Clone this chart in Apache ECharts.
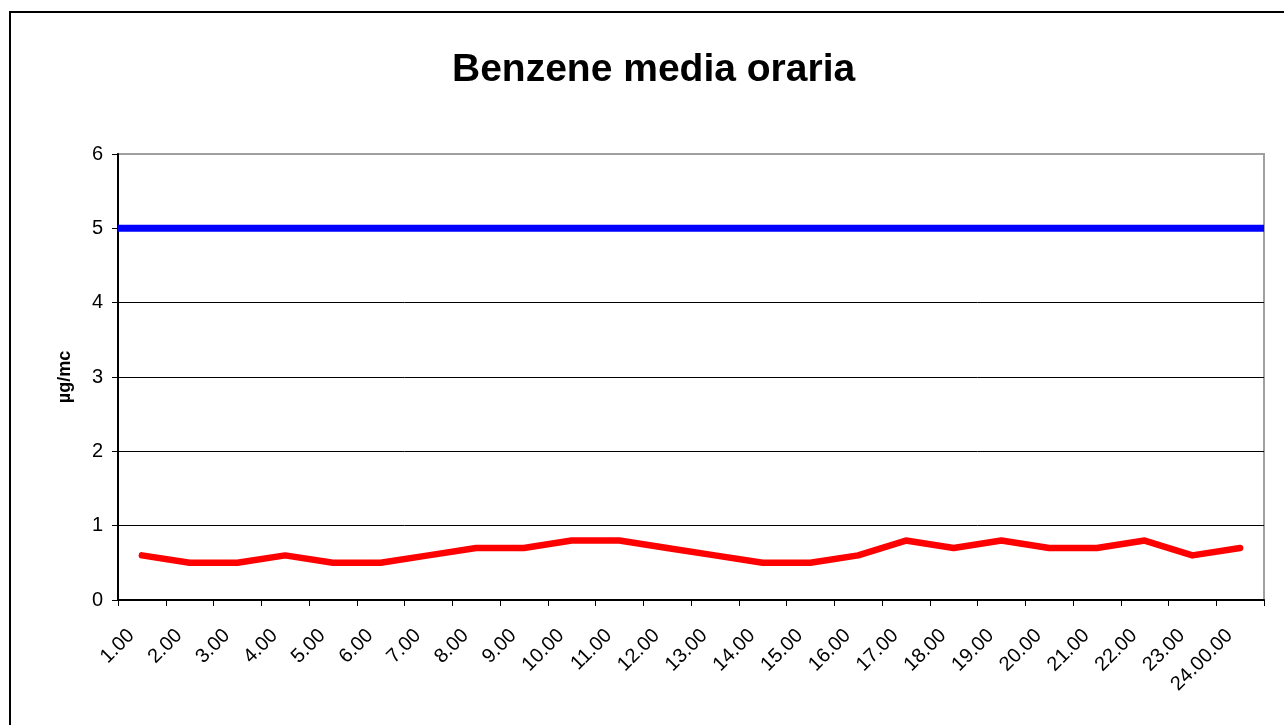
<!DOCTYPE html>
<html>
<head>
<meta charset="utf-8">
<script src="https://cdn.jsdelivr.net/npm/echarts@6/dist/echarts.min.js"></script>
<style>
html,body{margin:0;padding:0;background:#fff;}
#chart{width:1284px;height:725px;}
</style>
</head>
<body>
<div id="chart"></div>
<script>
const titleText = 'Benzene media oraria';
const yAxisName = 'µg/mc';
const hours = ['1.00','2.00','3.00','4.00','5.00','6.00','7.00','8.00','9.00','10.00','11.00','12.00','13.00','14.00','15.00','16.00','17.00','18.00','19.00','20.00','21.00','22.00','23.00','24.00.00'];
const benzene = [0.6,0.5,0.5,0.6,0.5,0.5,0.6,0.7,0.7,0.8,0.8,0.7,0.6,0.5,0.5,0.6,0.8,0.7,0.8,0.7,0.7,0.8,0.6,0.7];
const limitValues = [5,5,5,5,5,5,5,5,5,5,5,5,5,5,5,5,5,5,5,5,5,5,5,5];
const yTicks = {min:0, max:6, interval:1};

const FONT = "'Liberation Sans', Arial, sans-serif";
const chart = echarts.init(document.getElementById('chart'), null, {renderer:'canvas'});
chart.setOption({
  backgroundColor:'#ffffff',
  animation:false,
  textStyle:{fontFamily:FONT},
  title:{
    text:titleText, left:447, top:46,
    textStyle:{fontFamily:FONT, fontSize:39, fontWeight:'bold', color:'#000'}
  },
  graphic:[{
    type:'rect', silent:true, z:-1,
    shape:{x:10, y:12, width:1300, height:740},
    style:{fill:'none', stroke:'#000', lineWidth:2}
  }],
  grid:{left:118, top:154, right:20, bottom:125, show:true, borderColor:'#a0a0a0', borderWidth:2, backgroundColor:'transparent'},
  xAxis:[{
    type:'category', data:hours, boundaryGap:true,
    axisLine:{show:true, lineStyle:{color:'#000', width:2}},
    axisTick:{show:true, length:6, lineStyle:{color:'#000', width:1}, alignWithLabel:false, interval:0},
    axisLabel:{interval:0, rotate:45, fontSize:20, color:'#000', fontFamily:FONT, margin:22, padding:[0,15,0,0]},
    splitLine:{show:false}
  },{
    type:'category', data:hours, boundaryGap:false, show:false, position:'bottom'
  }],
  yAxis:{
    type:'value', min:yTicks.min, max:yTicks.max, interval:yTicks.interval,
    name:yAxisName, nameLocation:'middle', nameGap:44, nameRotate:90,
    nameTextStyle:{fontFamily:FONT, fontSize:18, fontWeight:'bold', color:'#000'},
    axisLine:{show:true, lineStyle:{color:'#000', width:2}},
    axisTick:{show:true, length:6, lineStyle:{color:'#000', width:1}},
    axisLabel:{fontSize:20, color:'#000', fontFamily:FONT, margin:15},
    splitLine:{show:true, showMaxLine:false, lineStyle:{color:'#000', width:1}}
  },
  series:[{
    name:'Limite', type:'line', xAxisIndex:1, data:limitValues,
    symbol:'none', lineStyle:{color:'#0000ff', width:7}, itemStyle:{color:'#0000ff'}
  },{
    name:'Benzene', type:'line', xAxisIndex:0, data:benzene,
    symbol:'none', lineStyle:{color:'#ff0000', width:6.5, cap:'round', join:'round'}, itemStyle:{color:'#ff0000'}
  }]
});
</script>
</body>
</html>
